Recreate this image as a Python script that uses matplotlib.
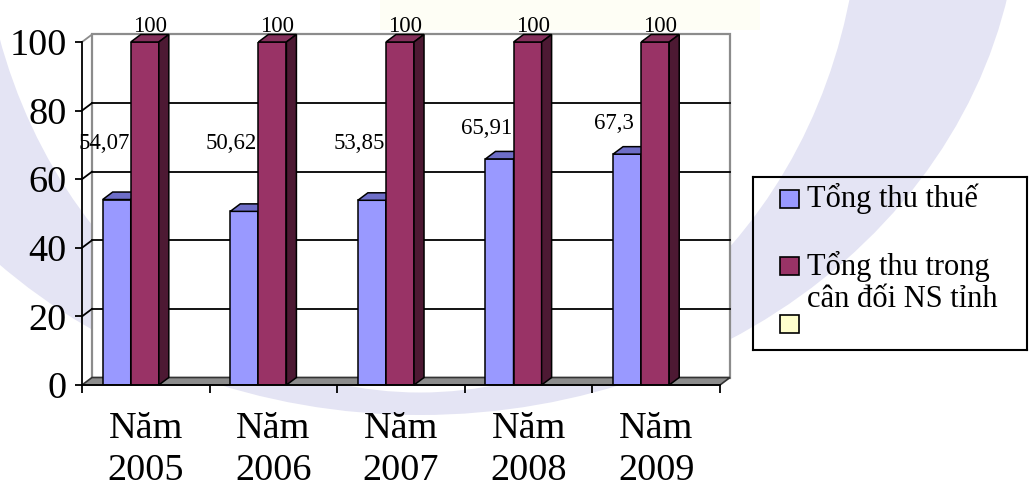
import matplotlib.pyplot as plt
from matplotlib.patches import Polygon, Rectangle, Ellipse

plt.rcParams['font.family'] = ['Liberation Serif', 'DejaVu Serif']

# data
categories = ['Năm\n2005', 'Năm\n2006', 'Năm\n2007', 'Năm\n2008', 'Năm\n2009']
tong_thu_thue = [54.07, 50.62, 53.85, 65.91, 67.3]
tong_thu_can_doi = [100, 100, 100, 100, 100]
series_names = ['Tổng thu thuế', 'Tổng thu trong\ncân đối NS tỉnh', '']
yticks = [0, 20, 40, 60, 80, 100]

# colours: front, top, side
blue = ('#9999ff', '#6e6ec8', '#4d4d99')
maroon = ('#993366', '#85305c', '#4d1933')
legend_colors = ['#9999ff', '#993366', '#ffffcc']

W, H = 1029, 490
fig = plt.figure(figsize=(W / 100, H / 100), dpi=100)

# faint stamp behind the chart
bg = fig.add_axes([0, 0, 1, 1], zorder=-10)
bg.set_xlim(0, W)
bg.set_ylim(H, 0)
bg.axis('off')
bg.add_patch(Ellipse((420, -110), 1200, 1050, color='#e4e4f4', lw=0))
bg.add_patch(Ellipse((420, -110), 880, 1005, color='white', lw=0))
bg.add_patch(Rectangle((380, 0), 380, 30, color='#fefef5', lw=0))

# front plane of the 3-D chart
px0, px1, ptop, pbot = 82, 720, 42, 385
ax = fig.add_axes([px0 / W, 1 - pbot / H, (px1 - px0) / W, (pbot - ptop) / H])
n = len(categories)
left, right = -0.5, n - 0.5
ax.set_xlim(left, right)
ax.set_ylim(0, 100)
ax.patch.set_visible(False)

# depth offset in data units
ddx = 10 / ((px1 - px0) / n)
ddy = 7.5 / ((pbot - ptop) / 100)

# back wall, gridlines and floor
ax.add_patch(Rectangle((left + ddx, ddy), right - left, 100, facecolor='white',
                       edgecolor='#8c8c8c', lw=1.6, zorder=0, clip_on=False))
for v in yticks[1:-1]:
    ax.plot([left + ddx, right + ddx], [v + ddy, v + ddy], color='black', lw=1.3,
            zorder=1, clip_on=False)
for v in yticks[1:]:
    ax.plot([left, left + ddx], [v, v + ddy], color='black' if v < 100 else '#8c8c8c',
            lw=1.3, zorder=1, clip_on=False)
ax.add_patch(Polygon([(left, 0), (right, 0), (right + ddx, ddy), (left + ddx, ddy)],
                     facecolor='#8c8c8c', edgecolor='#333333', lw=1.2, zorder=1,
                     clip_on=False))

w = 0.22
centers = [i - 0.118 for i in range(n)]
bx = [c - w / 2 for c in centers]
mx = [c + w / 2 for c in centers]


def bar3d(xs, vals, cols, z):
    ax.bar(xs, vals, width=w, color=cols[0], edgecolor='black', lw=1.1, zorder=z)
    for x, v in zip(xs, vals):
        a, b = x - w / 2, x + w / 2
        ax.add_patch(Polygon([(a, v), (b, v), (b + ddx, v + ddy), (a + ddx, v + ddy)],
                             facecolor=cols[1], edgecolor='black', lw=1.1, zorder=z,
                             clip_on=False))
        ax.add_patch(Polygon([(b, 0), (b + ddx, ddy), (b + ddx, v + ddy), (b, v)],
                             facecolor=cols[2], edgecolor='black', lw=1.1, zorder=z,
                             clip_on=False))


bar3d(bx, tong_thu_thue, blue, 3)
bar3d(mx, tong_thu_can_doi, maroon, 4)

# value labels
for x, v in zip(bx, tong_thu_thue):
    ax.text(x - 0.1, max(v + 9, 70.5), f'{v:g}'.replace('.', ','), ha='center',
            va='center', fontsize=16.5, zorder=6)
for x, v in zip(mx, tong_thu_can_doi):
    ax.text(x + ddx / 2, v + ddy + 0.7, f'{v:g}', ha='center', va='baseline',
            fontsize=16.5, zorder=6, clip_on=False)

# axes
for s in ['top', 'right']:
    ax.spines[s].set_visible(False)
ax.spines['left'].set_linewidth(1.3)
ax.spines['bottom'].set_linewidth(1.3)
ax.spines['left'].set_zorder(5)
ax.spines['bottom'].set_zorder(5)
ax.set_yticks(yticks)
ax.set_yticklabels([str(t) for t in yticks], fontsize=27.5)
ax.tick_params(axis='y', length=5, width=1.3, pad=6)
ax.set_xticks(range(n))
ax.set_xticklabels(categories, fontsize=27.5, linespacing=1.3)
ax.set_xticks([left + i for i in range(n + 1)], minor=True)
ax.tick_params(axis='x', which='major', length=0, pad=19)
ax.tick_params(axis='x', which='minor', length=6, width=1.3)

# legend box
lx0, lx1, ly0, ly1 = 753, 1027, 177, 350
lax = fig.add_axes([lx0 / W, 1 - ly1 / H, (lx1 - lx0) / W, (ly1 - ly0) / H])
lax.set_xlim(lx0, lx1)
lax.set_ylim(ly1, ly0)
lax.patch.set_visible(False)
lax.set_xticks([])
lax.set_yticks([])
for s in lax.spines.values():
    s.set_linewidth(1.5)
square_tops = [190, 257, 315]
text_lines = [[(207, 'Tổng thu thuế')],
              [(275, 'Tổng thu trong'), (307, 'cân đối NS tỉnh')],
              []]
for col, top, lines in zip(legend_colors, square_tops, text_lines):
    lax.add_patch(Rectangle((780, top), 19, 18, facecolor=col, edgecolor='black', lw=1.2))
    for base, txt in lines:
        lax.text(807, base, txt, fontsize=22, va='baseline', ha='left')

fig.savefig('out.png', dpi=100)
